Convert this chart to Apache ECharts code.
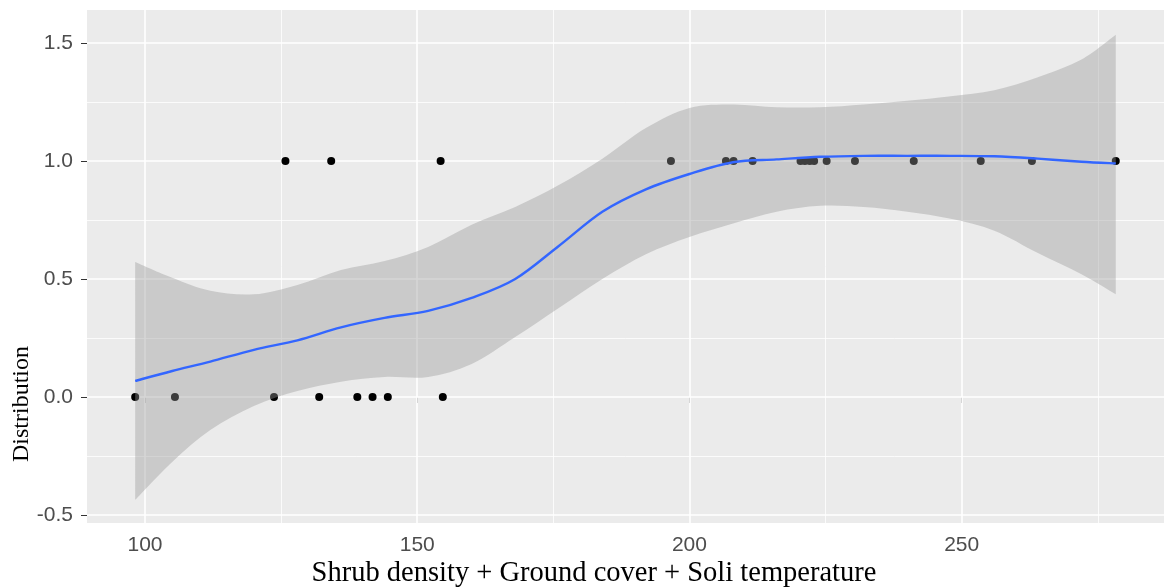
<!DOCTYPE html>
<html><head><meta charset="utf-8">
<script src="https://cdn.jsdelivr.net/npm/echarts@6/dist/echarts.min.js"></script>
<style>html,body{margin:0;padding:0;background:#fff}#c{width:1164px;height:587px}</style>
</head><body><div id="c"></div>
<script>
// observations (Distribution = 0 / 1)
const absentX = [98.2, 105.5, 123.7, 132.0, 139.0, 141.8, 144.6, 154.7];
const presentX = [125.8, 134.2, 154.3, 196.6, 206.7, 208.1, 211.6, 220.4, 221.2, 222.1, 222.9, 225.2, 230.4, 241.2, 253.5, 262.9, 278.3];
// loess fit and confidence band
const fitX = [98.2, 105, 112, 120, 128, 136, 144, 152, 160, 168, 176, 184, 192, 200, 208, 216, 224, 232, 240, 248, 256, 264, 272, 278.3];
const fitY = [0.068, 0.11, 0.15, 0.20, 0.24, 0.295, 0.335, 0.365, 0.42, 0.50, 0.64, 0.785, 0.88, 0.945, 0.995, 1.007, 1.018, 1.022, 1.022, 1.022, 1.02, 1.01, 0.997, 0.99];
const upperY = [0.572, 0.505, 0.45, 0.435, 0.475, 0.538, 0.576, 0.636, 0.73, 0.805, 0.898, 1.01, 1.14, 1.225, 1.24, 1.228, 1.228, 1.24, 1.255, 1.275, 1.30, 1.355, 1.43, 1.535];
const lowerY = [-0.436, -0.275, -0.14, -0.038, 0.025, 0.065, 0.085, 0.085, 0.14, 0.254, 0.377, 0.50, 0.605, 0.678, 0.735, 0.785, 0.81, 0.805, 0.785, 0.755, 0.705, 0.61, 0.52, 0.435];
// axis ticks
const xTicks = [100, 150, 200, 250];
const xMinor = [125, 175, 225, 275];
const yTicks = [-0.5, 0, 0.5, 1, 1.5];
const yMinor = [-0.25, 0.25, 0.75, 1.25];
const xTitle = 'Shrub density + Ground cover + Soli temperature';
const yTitle = 'Distribution';

const chart = echarts.init(document.getElementById('c'), null, {renderer: 'canvas'});

const gridLines = []
  .concat(xTicks.map(v => ({xAxis: v, lineStyle: {width: 1.6}})))
  .concat(xMinor.map(v => ({xAxis: v, lineStyle: {width: 0.8}})))
  .concat(yTicks.map(v => ({yAxis: v, lineStyle: {width: 1.6}})))
  .concat(yMinor.map(v => ({yAxis: v, lineStyle: {width: 0.8}})));

const points = absentX.map(x => [x, 0]).concat(presentX.map(x => [x, 1]));

// smooth path through pixel points (Catmull-Rom as cubic Bezier), open curve
function curveSegs(p) {
  let d = '';
  const n = p.length;
  for (let i = 0; i < n - 1; i++) {
    const p0 = p[Math.max(i - 1, 0)], p1 = p[i], p2 = p[i + 1], p3 = p[Math.min(i + 2, n - 1)];
    const c1 = [p1[0] + (p2[0] - p0[0]) / 6, p1[1] + (p2[1] - p0[1]) / 6];
    const c2 = [p2[0] - (p3[0] - p1[0]) / 6, p2[1] - (p3[1] - p1[1]) / 6];
    d += ' C' + c1[0] + ' ' + c1[1] + ' ' + c2[0] + ' ' + c2[1] + ' ' + p2[0] + ' ' + p2[1];
  }
  return d;
}

function renderBand(params, api) {
  if (params.dataIndex !== 0) return null;
  const up = fitX.map((x, i) => api.coord([x, upperY[i]]));
  const lo = fitX.map((x, i) => api.coord([x, lowerY[i]])).reverse();
  const d = 'M' + up[0][0] + ' ' + up[0][1] + curveSegs(up) +
            ' L' + lo[0][0] + ' ' + lo[0][1] + curveSegs(lo) + ' Z';
  return {type: 'path', shape: {pathData: d}, style: {fill: 'rgba(153,153,153,0.4)', stroke: null}};
}

function renderFit(params, api) {
  if (params.dataIndex !== 0) return null;
  const p = fitX.map((x, i) => api.coord([x, fitY[i]]));
  const d = 'M' + p[0][0] + ' ' + p[0][1] + curveSegs(p);
  return {type: 'path', shape: {pathData: d}, style: {fill: null, stroke: '#3366FF', lineWidth: 2.4}};
}

const option = {
  animation: false,
  backgroundColor: '#ffffff',
  grid: {left: 87, top: 10, right: 0, bottom: 64, show: true, backgroundColor: '#EBEBEB', borderWidth: 0},
  xAxis: {
    type: 'value', min: 89.35, max: 287.16,
    axisLine: {show: false},
    splitLine: {show: false},
    axisTick: {show: true, customValues: xTicks, length: 6, lineStyle: {color: '#333333', width: 1}},
    axisLabel: {customValues: xTicks, color: '#4D4D4D', fontSize: 21, fontFamily: 'Liberation Sans', margin: 12}
  },
  yAxis: {
    type: 'value', min: -0.534, max: 1.64,
    axisLine: {show: false},
    splitLine: {show: false},
    axisTick: {show: true, customValues: yTicks, length: 6, lineStyle: {color: '#333333', width: 1}},
    axisLabel: {customValues: yTicks, color: '#4D4D4D', fontSize: 21, fontFamily: 'Liberation Sans', margin: 14,
      formatter: v => v.toFixed(1)}
  },
  series: [
    {
      type: 'line', name: 'grid', data: [[95, 0]], symbol: 'none', silent: true, z: 1,
      lineStyle: {opacity: 0},
      markLine: {silent: true, symbol: ['none', 'none'], label: {show: false}, z: 1, animation: false,
        lineStyle: {color: '#ffffff', type: 'solid'}, emphasis: {disabled: true}, data: gridLines}
    },
    {
      type: 'scatter', name: 'obs', data: points, symbolSize: 8, z: 3,
      itemStyle: {color: '#000000', opacity: 1}
    },
    {
      type: 'custom', name: 'band', z: 4, silent: true,
      data: fitX.map((x, i) => [x, lowerY[i], upperY[i]]),
      encode: {x: 0, y: [1, 2]},
      renderItem: renderBand
    },
    {
      type: 'custom', name: 'fit', z: 5, silent: true,
      data: fitX.map((x, i) => [x, fitY[i]]),
      encode: {x: 0, y: 1},
      renderItem: renderFit
    }
  ],
  graphic: [
    {type: 'text', x: 594, y: 574, silent: true,
      style: {text: xTitle, fill: '#000000', font: '28.5px "Liberation Serif"', textAlign: 'center', textVerticalAlign: 'middle'}},
    {type: 'text', x: 22, y: 404, rotation: Math.PI / 2, silent: true,
      style: {text: yTitle, fill: '#000000', font: '24px "Liberation Serif"', textAlign: 'center', textVerticalAlign: 'middle'}}
  ]
};
chart.setOption(option);
</script>
</body></html>
